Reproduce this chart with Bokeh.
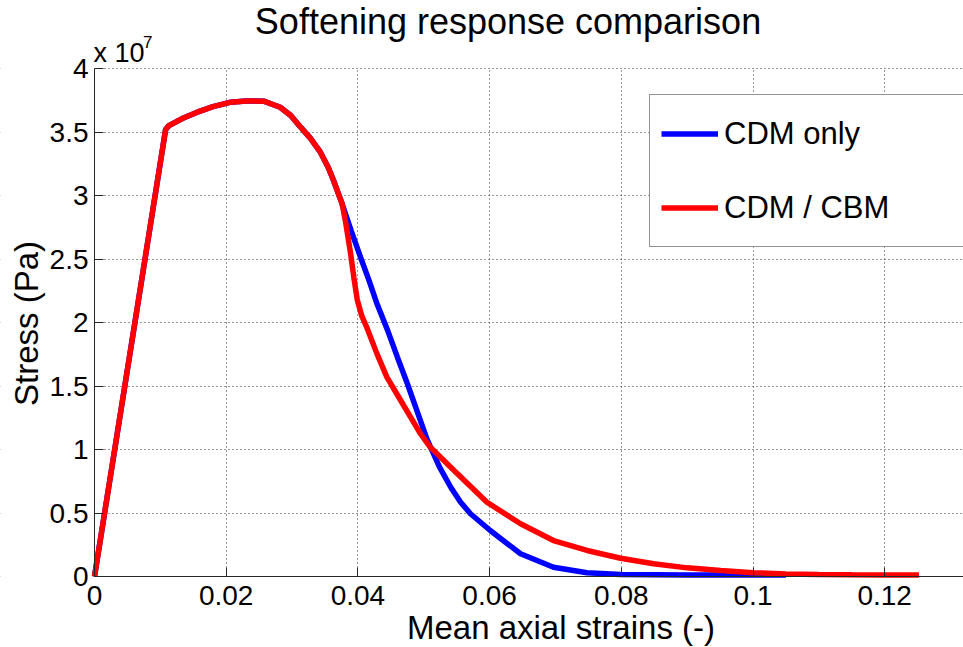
from bokeh.plotting import figure
from bokeh.models import (Range1d, Label, Legend, LegendItem, FixedTicker,
                          CustomJSTickFormatter, BoxAnnotation)
from bokeh.embed import file_html
from bokeh.resources import INLINE
import math

# ---- data (stress in units of 1e7 Pa) ----
strain_cdm = [0.0, 0.0108, 0.0113, 0.0135, 0.0156, 0.018, 0.0207, 0.023, 0.0257, 0.0282,
              0.0298, 0.0313, 0.0328, 0.0343, 0.0355, 0.0363, 0.0376,
              0.039, 0.0404, 0.0417, 0.0429, 0.0445, 0.046, 0.0475, 0.049, 0.0505, 0.0524,
              0.0541, 0.0556, 0.0571, 0.0601, 0.0647, 0.0697, 0.0748, 0.0799, 0.09, 0.1, 0.105]
stress_cdm = [0.0, 3.52, 3.55, 3.61, 3.656, 3.70, 3.735, 3.745, 3.743, 3.695,
              3.63, 3.538, 3.45, 3.341, 3.22, 3.118, 2.935,
              2.72, 2.514, 2.33, 2.147, 1.94, 1.727, 1.52, 1.30, 1.08, 0.861,
              0.703, 0.585, 0.494, 0.362, 0.179, 0.073, 0.03, 0.015, 0.012, 0.012, 0.012]

strain_cbm = [0.0, 0.0108, 0.0113, 0.0135, 0.0156, 0.018, 0.0207, 0.023, 0.0257, 0.0282,
              0.0298, 0.0313, 0.0328, 0.0343, 0.0355, 0.0363, 0.0376,
              0.0381, 0.0389, 0.0394, 0.0399, 0.0406, 0.0414, 0.0429, 0.0444, 0.0465, 0.048,
              0.0495, 0.051, 0.0546, 0.0596, 0.0647, 0.0697, 0.0748, 0.0799, 0.0849, 0.09,
              0.0951, 0.1, 0.105, 0.11, 0.115, 0.12, 0.1252]
stress_cbm = [0.0, 3.52, 3.55, 3.61, 3.656, 3.70, 3.735, 3.745, 3.743, 3.695,
              3.63, 3.538, 3.45, 3.341, 3.22, 3.118, 2.935,
              2.80, 2.54, 2.35, 2.18, 2.05, 1.955, 1.753, 1.57, 1.386, 1.255,
              1.124, 1.017, 0.835, 0.585, 0.415, 0.283, 0.205, 0.144, 0.1, 0.068,
              0.047, 0.03, 0.02, 0.015, 0.013, 0.012, 0.012]

x_ticks = [0, 0.02, 0.04, 0.06, 0.08, 0.1, 0.12]
y_ticks = [0, 0.5, 1, 1.5, 2, 2.5, 3, 3.5, 4]
series_names = ["CDM only", "CDM / CBM"]
title_text = "Softening response comparison"
x_label = "Mean axial strains (-)"
y_label = "Stress (Pa)"
y_exponent = "7"

FONT = "Liberation Sans"
AX = "#262626"

W, H = 963, 647
# axes origin at canvas pixel (94, 576); scales 6585 px per strain unit, 127 px per stress unit
X0, Y0, SX, SY = 94, 576, 6585.0, 127.0

p = figure(width=W, height=H, output_backend="svg", toolbar_location=None,
           title_location=None,
           x_range=Range1d(-X0 / SX, (W - X0) / SX),
           y_range=Range1d(-(H - Y0) / SY, Y0 / SY),
           min_border_left=0, min_border_right=0, min_border_top=0, min_border_bottom=0)
p.outline_line_color = None
p.background_fill_color = "white"
p.border_fill_color = "white"

fmt = CustomJSTickFormatter(code="return String(Math.round(tick*1000)/1000);")
for ax, ticks in ((p.xaxis[0], x_ticks), (p.yaxis[0], y_ticks)):
    ax.ticker = FixedTicker(ticks=ticks)
    ax.formatter = fmt
    ax.fixed_location = 0
    ax.major_tick_in = 9
    ax.major_tick_out = 0
    ax.minor_tick_line_color = None
    ax.axis_line_color = AX
    ax.major_tick_line_color = AX
    ax.major_label_text_font = FONT
    ax.major_label_text_font_size = "28px"
    ax.major_label_text_color = "black"
p.xaxis[0].bounds = (0, 1)
p.yaxis[0].bounds = (0, max(y_ticks))
p.xaxis[0].major_label_standoff = 9
p.yaxis[0].major_label_standoff = 6

for g in (p.xgrid[0], p.ygrid[0]):
    g.grid_line_color = "#333333"
    g.grid_line_dash = "1 3"
    g.grid_line_width = 1

# mask grid lines outside the axes box
for kw in (dict(top=0), dict(bottom=max(y_ticks) + 0.006), dict(right=0)):
    p.add_layout(BoxAnnotation(fill_color="white", fill_alpha=1.0, line_color=None,
                               level="underlay", **kw))

r_blue = p.line(strain_cdm, stress_cdm, line_color="#0000ff", line_width=5.5)
r_red = p.line(strain_cbm, stress_cbm, line_color="#ff0000", line_width=5.5)

legend = Legend(items=[LegendItem(label=series_names[0], renderers=[r_blue]),
                       LegendItem(label=series_names[1], renderers=[r_red])],
                location=(649, H - 247), padding=11, spacing=19,
                glyph_width=57, glyph_height=55, label_height=55, label_width=228,
                label_standoff=6, margin=0,
                label_text_font=FONT, label_text_font_size="31px", label_text_color="black",
                border_line_color=AX, border_line_width=1, background_fill_color="white",
                background_fill_alpha=1.0)
p.add_layout(legend, "center")

# texts placed in screen pixels (origin at bottom-left of the canvas)
def lab(x, y, text, size, **kw):
    p.add_layout(Label(x=x, y=y, x_units="screen", y_units="screen", text=text,
                       text_font=FONT, text_font_size=size, text_color="black", **kw))

lab(507.5, H - 20.5, title_text, "36px", text_align="center", text_baseline="alphabetic")
lab(560.5, H - 626.5, x_label, "33px", text_align="center", text_baseline="alphabetic")
lab(26, H - 323, y_label, "33px", angle=math.pi / 2, text_align="center",
    text_baseline="middle")
lab(93, H - 52.5, "x 10", "27px", text_align="left", text_baseline="alphabetic")
lab(142.5, H - 41.5, y_exponent, "17px", text_align="left", text_baseline="alphabetic")

open("out.html", "w").write(file_html(p, INLINE))
